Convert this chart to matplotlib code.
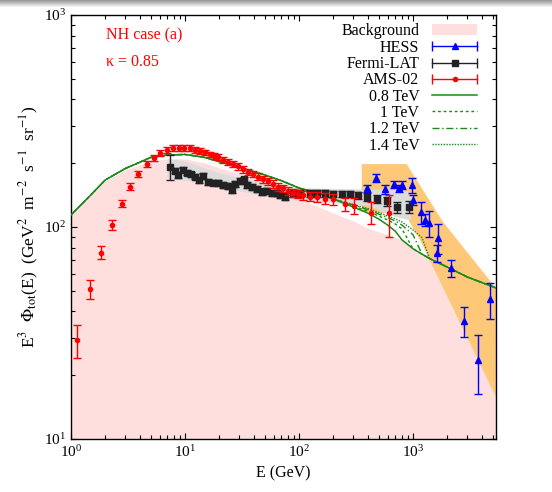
import matplotlib
matplotlib.use("Agg")
import matplotlib.pyplot as plt
import numpy as np
from matplotlib.legend_handler import HandlerBase
from matplotlib.lines import Line2D
from matplotlib.patches import Patch

plt.rcParams['font.family'] = ['Liberation Serif', 'DejaVu Serif']
plt.rcParams['mathtext.fontset'] = 'stix'

# AMS-02 (E in GeV, E^3 flux)
ams_E = [1.14, 1.47, 1.83, 2.28, 2.78, 3.31, 3.89, 4.61, 5.38, 6.03, 6.91, 7.89, 8.86, 9.86,
         11.1, 12.2, 13.6, 15.0, 16.6, 18.0, 19.6, 21.7, 24.0, 26.5, 29.4, 32.5, 35.9, 39.7,
         44.0, 48.6, 53.8, 59.5, 65.8, 72.8, 80.5, 89.1, 98.6, 109, 125, 143, 169, 200,
         253, 304, 425, 620]
ams_F = [29.3, 51.0, 75.7, 102, 129, 155, 178, 198, 211, 223, 231, 236, 237, 237,
         235, 232, 228, 225, 220, 216, 213, 207, 202, 198, 193, 187, 182, 178,
         173, 168, 164, 160, 155, 152, 148, 145, 143, 141, 139, 138, 136, 135,
         128, 126, 117, 116]
ams_err = [5.3, 5.4, 5.4, 5.4, 5.0, 5.5, 6.0, 6.5, 7, 7, 7.5, 7.5, 7.5, 7.5,
           7.5, 7.5, 7, 7, 7, 7, 7, 6.5, 6.5, 6.5, 6.5, 6.5, 6.5, 6.5,
           6.5, 6.5, 6.5, 6.5, 6.5, 6.5, 6.5, 6.5, 6.5, 7, 7, 7.5, 8, 8.5,
           9.5, 11, 13.5, 26]

# Fermi-LAT
fermi_E = [7.39, 8.17, 8.74, 9.54, 10.35, 11.22, 12.24, 13.34, 14.48, 16.0, 17.7, 19.6,
           21.7, 24.0, 25.7, 27.5, 30.4, 32.9, 35.2, 38.5, 42.6, 47.1, 52.1, 57.6, 63.7,
           68.1, 75.4, 89.1, 102, 125, 143, 169, 200, 237, 280, 331, 393, 481, 588, 724, 929]
fermi_F = [192, 184, 176, 186, 180, 177, 173, 167, 174, 163, 162, 161,
           158, 156, 150, 160, 165, 168, 158, 154, 151, 147, 148, 145, 145,
           142, 139, 144, 144, 144, 144, 144, 143, 143, 143, 141, 139, 136, 132, 124, 124]
fermi_err = [26, 5, 5, 5, 5, 5, 5, 5, 5, 5, 5, 5,
             5, 5, 5, 5, 5, 5, 5, 5, 5, 5, 5, 5, 5,
             5, 5, 5, 5, 5, 5, 5, 5, 5, 5, 5, 6, 6, 7, 7, 8]
fermi_band_E = [7, 10, 20, 50, 100, 200, 400, 700, 950]
fermi_band_lo = [170, 166, 155, 140, 133, 130, 127, 112, 108]
fermi_band_hi = [210, 205, 180, 162, 153, 152, 151, 150, 147]

# HESS
hess_E = [393, 473, 568, 686, 754, 805, 974, 1000, 1168, 1274, 1389, 1667, 1614,
          2143, 2800, 3696, 4732]
hess_F = [152.4, 169.8, 151, 158.8, 152.4, 157.8, 157.8, 133.8, 117.2, 107.9, 104,
          88.5, 75.2, 63.8, 36.1, 23.6, 45.6]
hess_err = [5.5, 7.6, 7.4, 5.8, 6, 6.9, 12.5, 7.3, 13.7, 7, 14.7, 14.3, 7,
            5.8, 5.8, 7.3, 8.7]
hess_band_E = [355, 881, 1833, 5346, 5346, 1151, 851, 355]
hess_band_F = [198, 198, 105.7, 51.5, 15.8, 86.9, 115.1, 117.8]

# model curves
curve_E = [1, 1.4, 2, 3, 5, 7, 10, 15, 20, 30, 50, 70, 100, 150, 200,
           300, 400, 500, 600, 700, 800, 1000, 1200, 1400, 2000, 3000, 5500]
bg_F = [114, 136.8, 164.8, 185.8, 204.8, 209.5, 209.5, 200.5, 189.8, 177.8, 161.4, 149.6,
        135.5, 124.2, 116.4, 106.7, 99, 95, 92, 89.5, 87, 79, 74.5, 71.0,
        64.7, 58.1, 51.3]
common_F = [114, 136.8, 166.7, 188.8, 212.8, 218.6, 219.9, 212.8, 203.2, 191.4, 176, 165.5,
            152.8, 143.8, 135.5]
tail_bg = [79, 74.5, 71.0, 64.7, 58.1, 51.3]
tev08_F = common_F + [124.2, 116.4, 109.1, 102.1, 95.5, 87] + tail_bg
tev10_F = common_F + [125.6, 118.8, 112.7, 107.9, 103.3, 98] + tail_bg
tev12_F = common_F + [127.0, 120.9, 115.1, 110.8, 106.7, 102.1, 92, 74.5, 71.0, 64.7, 58.1, 51.3]
tev14_F = common_F + [127.7, 122.3, 117.0, 112.7, 109.1, 105.6, 97, 89, 71.0, 64.7, 58.1, 51.3]


class ErrHandler(HandlerBase):
    def __init__(self, color, marker, ms):
        super().__init__()
        self.color, self.marker, self.ms = color, marker, ms

    def create_artists(self, legend, orig_handle, xdescent, ydescent, width, height, fontsize, trans):
        y = height / 2 - ydescent
        x0, x1 = -xdescent, -xdescent + width
        line = Line2D([x0, x1], [y, y], color=self.color, lw=1)
        caps = Line2D([x0, x1], [y, y], ls='none', marker='|', ms=7, mew=1, color=self.color)
        mk = Line2D([(x0 + x1) / 2], [y], ls='none', marker=self.marker, ms=self.ms, color=self.color)
        for a in (line, caps, mk):
            a.set_transform(trans)
        return [line, caps, mk]


fig = plt.figure(figsize=(5.52, 4.92), dpi=100)

# grey bar at the top of the screenshot
top = fig.add_axes([0, 1 - 8 / 492, 1, 8 / 492])
grad = np.linspace(0.6, 1.0, 8).reshape(-1, 1)
top.imshow(grad, aspect='auto', cmap='gray', vmin=0, vmax=1, extent=[0, 1, 0, 1])
top.axis('off')

ax = fig.add_axes([71 / 552, 53 / 492, 425 / 552, 424 / 492])
ax.set_xscale('log')
ax.set_yscale('log')
ax.set_xlim(1, 5350)
ax.set_ylim(10, 1000)

ax.fill_between(curve_E, 10, bg_F, color='#ffdede', lw=0, zorder=1)
ax.fill(hess_band_E, hess_band_F, color='#fdc878', lw=0, zorder=2)
ax.fill_between(fermi_band_E, fermi_band_lo, fermi_band_hi, color='#dcdcdc', lw=0, zorder=3)

ax.plot(curve_E, tev08_F, color='#1a8a1a', lw=1.1, ls='-', zorder=4)
ax.plot(curve_E, tev10_F, color='#1a8a1a', lw=1.0, ls=(0, (2, 2)), zorder=4)
ax.plot(curve_E, tev12_F, color='#1a8a1a', lw=1.0, ls=(0, (5, 2, 1, 2)), zorder=4)
ax.plot(curve_E, tev14_F, color='#1a8a1a', lw=1.0, ls=(0, (1, 1)), zorder=4)

ax.errorbar(hess_E, hess_F, yerr=hess_err, fmt='^', color='blue', ms=4, capsize=3,
            elinewidth=1, capthick=1, zorder=6)
ax.errorbar(fermi_E, fermi_F, yerr=fermi_err, fmt='s', color='#222222', ms=4, capsize=3,
            elinewidth=1, capthick=1, zorder=5)
ax.errorbar(ams_E, ams_F, yerr=ams_err, fmt='o', color='red', ms=3, capsize=3,
            elinewidth=1, capthick=1, zorder=7)

ax.text(0.082, 0.953, 'NH case (a)', color='red', fontsize=11.5, transform=ax.transAxes, va='center')
ax.text(0.082, 0.889, r'κ = 0.85', color='red', fontsize=11.5, transform=ax.transAxes, va='center')

h_bg = Patch(facecolor='#ffdede', edgecolor='none')
h_hess = Line2D([], [])
h_fermi = Line2D([], [])
h_ams = Line2D([], [])
h_08 = Line2D([], [], color='#1a8a1a', lw=1.1, ls='-')
h_10 = Line2D([], [], color='#1a8a1a', lw=1.0, ls=(0, (2, 2)))
h_12 = Line2D([], [], color='#1a8a1a', lw=1.0, ls=(0, (5, 2, 1, 2)))
h_14 = Line2D([], [], color='#1a8a1a', lw=1.0, ls=(0, (1, 1)))
ax.legend([h_bg, h_hess, h_fermi, h_ams, h_08, h_10, h_12, h_14],
          ['Background', 'HESS', 'Fermi-LAT', 'AMS-02', '0.8 TeV', '1 TeV', '1.2 TeV', '1.4 TeV'],
          handler_map={h_hess: ErrHandler('blue', '^', 4), h_fermi: ErrHandler('#222222', 's', 4),
                       h_ams: ErrHandler('red', 'o', 3)},
          loc='upper right', bbox_to_anchor=(0.955, 0.98), frameon=False, markerfirst=False,
          fontsize=11.5, handlelength=2.8, handletextpad=0.8, labelspacing=0.02,
          borderpad=0, borderaxespad=0)

ax.tick_params(which='both', direction='in', top=True, right=True, labelsize=11)
ax.tick_params(which='major', length=4.5, width=0.8)
ax.tick_params(which='minor', length=2.7, width=0.8)
for s in ax.spines.values():
    s.set_linewidth(1)

ax.set_xlabel('E (GeV)', fontsize=11.5, labelpad=4)
ax.set_ylabel(r'E$^3$  $\Phi_{\rm tot}$(E)  (GeV$^2$  m$^{-2}$  s$^{-1}$  sr$^{-1}$)', fontsize=12.5, labelpad=2)

fig.savefig('out.png', dpi=100)
